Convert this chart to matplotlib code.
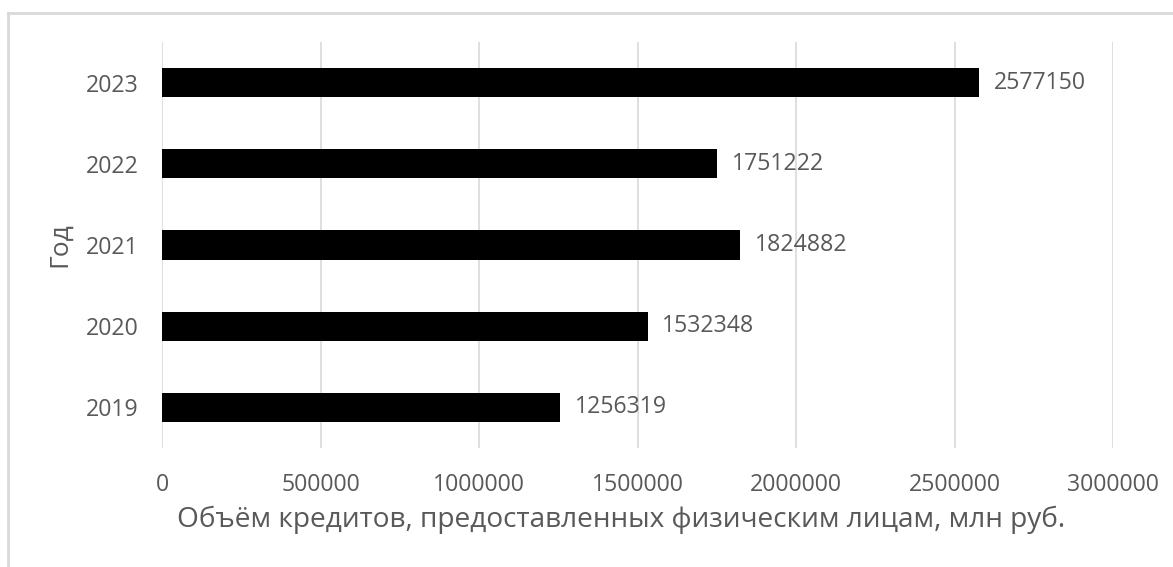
import matplotlib.pyplot as plt
from matplotlib.lines import Line2D

plt.rcParams['font.family'] = ['Open Sans', 'DejaVu Sans']

years = ['2019', '2020', '2021', '2022', '2023']
volumes = [1256319, 1532348, 1824882, 1751222, 2577150]
xticks = [0, 500000, 1000000, 1500000, 2000000, 2500000, 3000000]

grey = '#595959'

fig = plt.figure(figsize=(11.73, 5.67), dpi=100)
ax = fig.add_axes([162 / 1173, 1 - 448 / 567, (1113 - 162) / 1173, (448 - 42) / 567])

bars = ax.barh(years, volumes, height=0.36, color='black', zorder=3)
ax.bar_label(bars, labels=[str(v) for v in volumes], padding=10.5,
             fontsize=16.7, color=grey)

ax.set_xlim(0, 3000000)
ax.set_ylim(-0.5, 4.5)
ax.set_xticks(xticks)
ax.set_xticklabels([str(t) for t in xticks])
ax.grid(axis='x', color='#d9d9d9', linewidth=1.2, zorder=0)
for s in ax.spines.values():
    s.set_visible(False)
ax.tick_params(length=0, labelsize=16.7, colors=grey)
ax.tick_params(axis='x', pad=18)
ax.tick_params(axis='y', pad=17)

ax.set_xlabel('Объём кредитов, предоставленных физическим лицам, млн руб.',
              fontsize=20.2, color=grey, labelpad=6)
ax.xaxis.label.set_x(0.483)
ax.set_ylabel('Год', fontsize=19, color=grey, labelpad=10)

# рамка области диаграммы
fig.add_artist(Line2D([7.5 / 1173, 1], [1 - 12.5 / 567] * 2,
                      transform=fig.transFigure, color='#d9d9d9', linewidth=2))
fig.add_artist(Line2D([7.5 / 1173] * 2, [0, 1 - 12.5 / 567],
                      transform=fig.transFigure, color='#d9d9d9', linewidth=2))

fig.savefig('out.png', dpi=100)
